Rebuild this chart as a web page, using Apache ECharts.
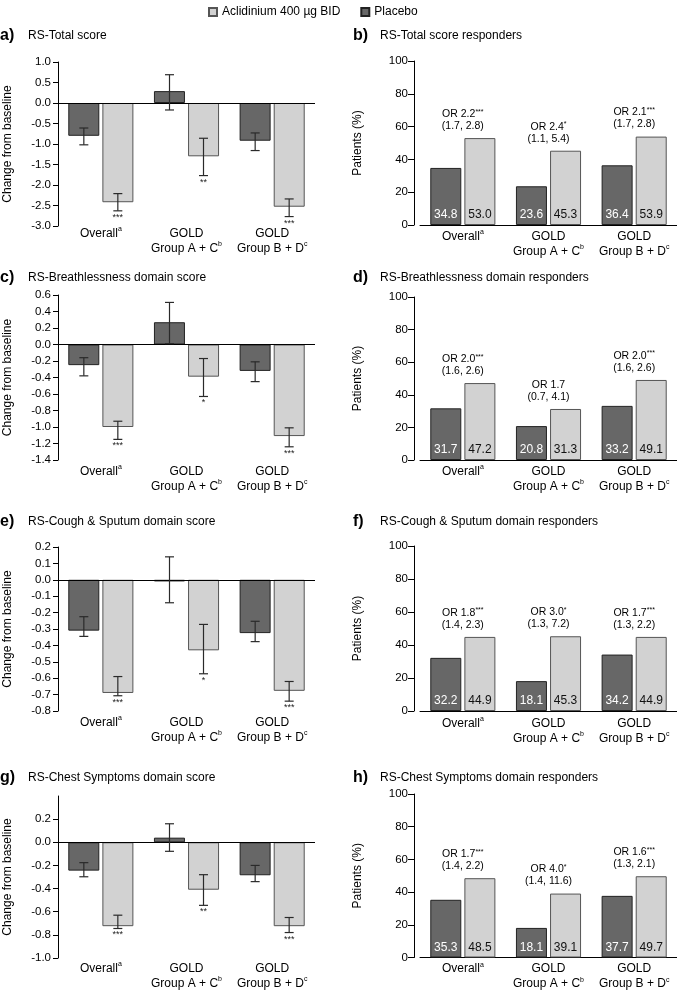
<!DOCTYPE html>
<html><head><meta charset="utf-8">
<script src="https://cdn.jsdelivr.net/npm/echarts@6/dist/echarts.min.js"></script>
<style>html,body{margin:0;padding:0;background:#fff}#c{width:677px;height:990px}</style>
</head><body><div id="c"></div>
<script>
// ---------- DATA ----------
const categories = ['Overall', 'GOLD\nGroup A + C', 'GOLD\nGroup B + D'];
const categorySup = ['a', 'b', 'c'];
const seriesNames = ['Aclidinium 400 µg BID', 'Placebo'];

// a) RS-Total score (change from baseline)
const totalPlacebo = [-0.80, 0.29, -0.92];
const totalPlaceboErr = [[-1.02, -0.61], [-0.17, 0.69], [-1.16, -0.73]];
const totalAclid = [-2.42, -1.30, -2.53];
const totalAclidErr = [[-2.63, -2.21], [-1.77, -0.86], [-2.77, -2.34]];
const totalStars = ['***', '**', '***'];
const totalAxis = [-3.0, 1.0, 0.5];

// c) RS-Breathlessness domain score
const breathPlacebo = [-0.25, 0.27, -0.32];
const breathPlaceboErr = [[-0.38, -0.16], [0.01, 0.51], [-0.45, -0.21]];
const breathAclid = [-1.00, -0.39, -1.11];
const breathAclidErr = [[-1.15, -0.93], [-0.63, -0.17], [-1.24, -1.01]];
const breathStars = ['***', '*', '***'];
const breathAxis = [-1.4, 0.6, 0.2];

// e) RS-Cough & Sputum domain score
const coughPlacebo = [-0.31, -0.01, -0.325];
const coughPlaceboErr = [[-0.345, -0.225], [-0.14, 0.14], [-0.377, -0.253]];
const coughAclid = [-0.69, -0.43, -0.677];
const coughAclidErr = [[-0.707, -0.59], [-0.573, -0.272], [-0.74, -0.62]];
const coughStars = ['***', '*', '***'];
const coughAxis = [-0.8, 0.2, 0.1];

// g) RS-Chest Symptoms domain score
const chestPlacebo = [-0.245, 0.04, -0.285];
const chestPlaceboErr = [[-0.298, -0.176], [-0.078, 0.16], [-0.34, -0.2]];
const chestAclid = [-0.725, -0.41, -0.725];
const chestAclidErr = [[-0.745, -0.63], [-0.545, -0.28], [-0.78, -0.65]];
const chestStars = ['***', '**', '***'];
const chestAxis = [-1.0, 0.4, 0.2];
const chestTicks = [-1.0, -0.8, -0.6, -0.4, -0.2, 0.0, 0.2];

// b) d) f) h) responders (%)
const totalRespPlacebo = [34.8, 23.6, 36.4];
const totalRespAclid = [53.0, 45.3, 53.9];
const totalOR = ['2.2', '2.4', '2.1'];
const totalORStars = ['***', '*', '***'];
const totalCI = ['(1.7, 2.8)', '(1.1, 5.4)', '(1.7, 2.8)'];

const breathRespPlacebo = [31.7, 20.8, 33.2];
const breathRespAclid = [47.2, 31.3, 49.1];
const breathOR = ['2.0', '1.7', '2.0'];
const breathORStars = ['***', '', '***'];
const breathCI = ['(1.6, 2.6)', '(0.7, 4.1)', '(1.6, 2.6)'];

const coughRespPlacebo = [32.2, 18.1, 34.2];
const coughRespAclid = [44.9, 45.3, 44.9];
const coughOR = ['1.8', '3.0', '1.7'];
const coughORStars = ['***', '*', '***'];
const coughCI = ['(1.4, 2.3)', '(1.3, 7.2)', '(1.3, 2.2)'];

const chestRespPlacebo = [35.3, 18.1, 37.7];
const chestRespAclid = [48.5, 39.1, 49.7];
const chestOR = ['1.7', '4.0', '1.6'];
const chestORStars = ['***', '*', '***'];
const chestCI = ['(1.4, 2.2)', '(1.4, 11.6)', '(1.3, 2.1)'];

const respAxis = [0, 100, 20];

const scorePanels = [
  {letter: 'a)', title: 'RS-Total score', pl: totalPlacebo, plErr: totalPlaceboErr, ac: totalAclid, acErr: totalAclidErr, stars: totalStars, axis: totalAxis},
  {letter: 'c)', title: 'RS-Breathlessness domain score', pl: breathPlacebo, plErr: breathPlaceboErr, ac: breathAclid, acErr: breathAclidErr, stars: breathStars, axis: breathAxis},
  {letter: 'e)', title: 'RS-Cough & Sputum domain score', pl: coughPlacebo, plErr: coughPlaceboErr, ac: coughAclid, acErr: coughAclidErr, stars: coughStars, axis: coughAxis},
  {letter: 'g)', title: 'RS-Chest Symptoms domain score', pl: chestPlacebo, plErr: chestPlaceboErr, ac: chestAclid, acErr: chestAclidErr, stars: chestStars, axis: chestAxis, ticks: chestTicks}
];
const respPanels = [
  {letter: 'b)', title: 'RS-Total score responders', pl: totalRespPlacebo, ac: totalRespAclid, or: totalOR, orStars: totalORStars, ci: totalCI},
  {letter: 'd)', title: 'RS-Breathlessness domain responders', pl: breathRespPlacebo, ac: breathRespAclid, or: breathOR, orStars: breathORStars, ci: breathCI},
  {letter: 'f)', title: 'RS-Cough & Sputum domain responders', pl: coughRespPlacebo, ac: coughRespAclid, or: coughOR, orStars: coughORStars, ci: coughCI},
  {letter: 'h)', title: 'RS-Chest Symptoms domain responders', pl: chestRespPlacebo, ac: chestRespAclid, or: chestOR, orStars: chestORStars, ci: chestCI}
];

// ---------- LAYOUT / STYLE ----------
const FONT = '"Liberation Sans", Arial, Helvetica, sans-serif';
const leftTops = [62, 295, 547, 796];
const leftHeights = [164, 165, 164, 162];
const leftCatMargin = [0, 4, 4, 3];
const rightTops = [61, 297, 546, 794];
const rightHeights = [164, 163, 165, 164];
const rightCatMargin = [4, 4, 5, 4];
const titleY = [36, 278, 522, 778];
const BAR_W = 31;
const OFF = 17;
const DARK = '#676767', LIGHT = '#d2d2d2';

const grid = [], xAxis = [], yAxis = [], series = [], graphic = [];

function catLabel(margin) {
  return {
    color: '#000', fontFamily: FONT, margin: margin, interval: 0,
    formatter: function (v, idx) {
      const lines = v.split('\n');
      return lines.map((l, k) => k === lines.length - 1 ? '{n|' + l + '}{s|' + categorySup[idx] + '}' : '{n|' + l + '}').join('\n');
    },
    rich: {
      n: {fontSize: 12, fontFamily: FONT, color: '#000', lineHeight: 15},
      s: {fontSize: 7, fontFamily: FONT, color: '#000', verticalAlign: 'top', lineHeight: 15}
    }
  };
}

function errRender(errs, stars, side) {
  return function (params, api) {
    const i = params.dataIndex;
    const pLo = api.coord([api.value(0), api.value(1)]);
    const pHi = api.coord([api.value(0), api.value(2)]);
    const x = pLo[0] + side * OFF;
    const cap = 4.5;
    const st = {stroke: '#2a2a2a', lineWidth: 1.2};
    const ch = [
      {type: 'line', shape: {x1: x, y1: pHi[1], x2: x, y2: pLo[1]}, style: st},
      {type: 'line', shape: {x1: x - cap, y1: pHi[1], x2: x + cap, y2: pHi[1]}, style: st},
      {type: 'line', shape: {x1: x - cap, y1: pLo[1], x2: x + cap, y2: pLo[1]}, style: st}
    ];
    if (stars && stars[i]) {
      ch.push({type: 'text', style: {text: stars[i], x: x, y: pLo[1] + 2, align: 'center', verticalAlign: 'top', fontSize: 9, fontFamily: FONT, fill: '#222'}});
    }
    return {type: 'group', children: ch};
  };
}

scorePanels.forEach((p, k) => {
  const gi = grid.length;
  grid.push({left: 58, width: 257, top: leftTops[k], height: leftHeights[k]});
  xAxis.push({type: 'category', gridIndex: gi, data: categories,
    axisLine: {show: false, onZero: false}, axisTick: {show: false}, axisLabel: catLabel(leftCatMargin[k])});
  const yl = {
    color: '#000', fontSize: 11.5, fontFamily: FONT, margin: 7,
    formatter: v => (Math.abs(v) < 1e-9 ? 0 : v).toFixed(1)
  };
  const yt = {show: true, length: 5, lineStyle: {color: '#000'}};
  if (p.ticks) { yl.customValues = p.ticks; yt.customValues = p.ticks; }
  yAxis.push({type: 'value', gridIndex: gi, min: p.axis[0], max: p.axis[1], interval: p.axis[2],
    name: 'Change from baseline', nameLocation: 'middle', nameRotate: 90, nameGap: 44,
    nameTextStyle: {fontSize: 12, fontFamily: FONT, color: '#000'},
    axisLine: {show: true, lineStyle: {color: '#000'}}, axisTick: yt, axisLabel: yl, splitLine: {show: false}});
  series.push({type: 'bar', name: seriesNames[1], xAxisIndex: gi, yAxisIndex: gi, data: p.pl,
    barWidth: BAR_W, barGap: '10%', itemStyle: {color: DARK, borderColor: '#222', borderWidth: 1},
    markLine: {silent: true, symbol: 'none', label: {show: false}, lineStyle: {color: '#000', width: 1, type: 'solid'}, data: [{yAxis: 0}]}});
  series.push({type: 'bar', name: seriesNames[0], xAxisIndex: gi, yAxisIndex: gi, data: p.ac,
    barWidth: BAR_W, barGap: '10%', itemStyle: {color: LIGHT, borderColor: '#555', borderWidth: 1}});
  series.push({type: 'custom', xAxisIndex: gi, yAxisIndex: gi, z: 5, silent: true, clip: false,
    data: p.plErr.map((e, i) => [i, e[0], e[1]]), encode: {x: 0, y: [1, 2]}, renderItem: errRender(p.plErr, null, -1)});
  series.push({type: 'custom', xAxisIndex: gi, yAxisIndex: gi, z: 5, silent: true, clip: false,
    data: p.acErr.map((e, i) => [i, e[0], e[1]]), encode: {x: 0, y: [1, 2]}, renderItem: errRender(p.acErr, p.stars, 1)});
  graphic.push({type: 'text', x: 0, y: titleY[k] - 0.5, style: {text: p.letter, font: 'bold 16px ' + FONT, fill: '#000', verticalAlign: 'middle'}});
  graphic.push({type: 'text', x: 28, y: titleY[k], style: {text: p.title, font: '12px ' + FONT, fill: '#000', verticalAlign: 'middle'}});
});

respPanels.forEach((p, k) => {
  const gi = grid.length;
  grid.push({left: 420, width: 258, top: rightTops[k], height: rightHeights[k]});
  xAxis.push({type: 'category', gridIndex: gi, data: categories,
    axisLine: {show: true, lineStyle: {color: '#000'}}, axisTick: {show: false}, axisLabel: catLabel(rightCatMargin[k])});
  yAxis.push({type: 'value', gridIndex: gi, min: respAxis[0], max: respAxis[1], interval: respAxis[2], offset: 6,
    name: 'Patients (%)', nameLocation: 'middle', nameRotate: 90, nameGap: 50,
    nameTextStyle: {fontSize: 12, fontFamily: FONT, color: '#000'},
    axisLine: {show: true, lineStyle: {color: '#000'}}, axisTick: {show: true, length: 6, lineStyle: {color: '#000'}},
    axisLabel: {color: '#000', fontSize: 11.5, fontFamily: FONT, margin: 6}, splitLine: {show: false}});
  series.push({type: 'bar', name: seriesNames[1], xAxisIndex: gi, yAxisIndex: gi, data: p.pl,
    barWidth: BAR_W, barGap: '10%', itemStyle: {color: DARK, borderColor: '#222', borderWidth: 1},
    label: {show: true, position: 'insideBottom', distance: 4, color: '#fff', fontSize: 12, fontFamily: FONT, formatter: d => d.value.toFixed(1)}});
  series.push({type: 'bar', name: seriesNames[0], xAxisIndex: gi, yAxisIndex: gi, data: p.ac,
    barWidth: BAR_W, barGap: '10%', itemStyle: {color: LIGHT, borderColor: '#555', borderWidth: 1},
    label: {show: true, position: 'insideBottom', distance: 4, color: '#111', fontSize: 12, fontFamily: FONT, formatter: d => d.value.toFixed(1)}});
  series.push({type: 'custom', xAxisIndex: gi, yAxisIndex: gi, z: 5, silent: true, clip: false,
    data: p.ac.map((v, i) => [i, v]), encode: {x: 0, y: 1},
    renderItem: function (params, api) {
      const i = params.dataIndex;
      const pt = api.coord([api.value(0), api.value(1)]);
      const first = '{t|OR ' + p.or[i] + '}' + (p.orStars[i] ? '{s|' + p.orStars[i] + '}' : '');
      return {type: 'text', style: {
        text: first + '\n{t|' + p.ci[i] + '}', x: pt[0], y: pt[1] - 6, align: 'center', verticalAlign: 'bottom',
        rich: {t: {fontSize: 10.5, fontFamily: FONT, fill: '#000', lineHeight: 12}, s: {fontSize: 7, fontFamily: FONT, fill: '#000', verticalAlign: 'top', lineHeight: 12}}
      }};
    }});
  graphic.push({type: 'text', x: 353, y: titleY[k] - 0.5, style: {text: p.letter, font: 'bold 16px ' + FONT, fill: '#000', verticalAlign: 'middle'}});
  graphic.push({type: 'text', x: 380, y: titleY[k], style: {text: p.title, font: '12px ' + FONT, fill: '#000', verticalAlign: 'middle'}});
});

const chart = echarts.init(document.getElementById('c'), null, {renderer: 'canvas'});
chart.setOption({
  animation: false,
  backgroundColor: '#fff',
  textStyle: {fontFamily: FONT},
  legend: {data: seriesNames, left: 203, top: 1, itemWidth: 8, itemHeight: 8, itemGap: 20, icon: 'rect',
    textStyle: {fontSize: 12, fontFamily: FONT, color: '#000'}, selectedMode: false},
  grid, xAxis, yAxis, series, graphic
});
</script></body></html>
